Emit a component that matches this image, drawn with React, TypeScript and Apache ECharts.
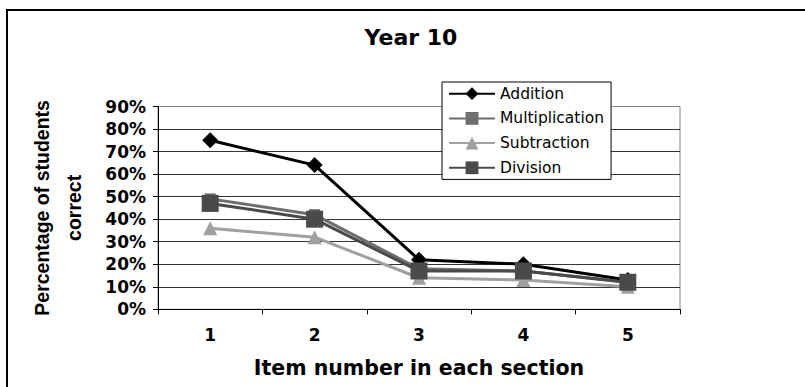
import React, { useEffect, useRef } from "react";
import * as echarts from "echarts";

// Item numbers along the x axis
const items = ["1", "2", "3", "4", "5"];

// Percentage of students correct per item, by section
const addition = [75, 64, 22, 20, 13];
const multiplication = [49, 42, 18, 17, 12];
const subtraction = [36, 32, 14, 13, 10];
const division = [47, 40, 17, 17, 12];

const seriesNames = ["Addition", "Multiplication", "Subtraction", "Division"];

const WIDE = "'DejaVu Sans', Verdana, sans-serif";
const ARIAL = "'Liberation Sans', Arial, Helvetica, sans-serif";

export default function App() {
  const ref = useRef<HTMLDivElement>(null);

  useEffect(() => {
    if (!ref.current) return;
    const chart = echarts.init(ref.current, null, { renderer: "svg" });

    // Excel-style gridlines: dark inside, lighter plot-area border on top
    const gridLineColors = ["#333", "#333", "#333", "#333", "#333", "#333", "#333", "#333", "#333", "#888"];

    chart.setOption({
      animation: false,
      backgroundColor: "#fff",
      textStyle: { fontFamily: WIDE },
      graphic: [
        {
          type: "rect",
          shape: { x: 7, y: 10, width: 900, height: 500 },
          style: { fill: "none", stroke: "#000", lineWidth: 2 },
          z: 0,
          silent: true,
        },
        {
          type: "text",
          x: 411,
          y: 37.5,
          style: {
            text: "Year 10",
            fontFamily: WIDE,
            fontSize: 22,
            fontWeight: "bold",
            fill: "#000",
            align: "center",
            verticalAlign: "middle",
          },
          z: 10,
        },
      ],
      legend: {
        orient: "vertical",
        left: 442,
        top: 82,
        itemWidth: 46,
        itemHeight: 16,
        itemGap: 8.7,
        padding: [3.7, 7, 3.6, 6],
        backgroundColor: "#fff",
        borderColor: "#000",
        borderWidth: 1,
        textStyle: { fontFamily: WIDE, fontSize: 15.5, color: "#000" },
        data: seriesNames,
        z: 10,
      },
      grid: {
        left: 158,
        right: 125,
        top: 106.5,
        bottom: 77.7,
        show: true,
        borderColor: "#888",
        borderWidth: 1,
        backgroundColor: "#fff",
      },
      xAxis: {
        type: "category",
        data: items,
        boundaryGap: true,
        name: "Item number in each section",
        nameLocation: "middle",
        nameGap: 48,
        nameTextStyle: { fontFamily: WIDE, fontSize: 20.5, fontWeight: "bold", color: "#000" },
        axisLine: { lineStyle: { color: "#000", width: 1 } },
        axisTick: { show: true, length: 5, inside: false, lineStyle: { color: "#000" } },
        axisLabel: { fontFamily: WIDE, fontSize: 17, fontWeight: "bold", color: "#000", margin: 17 },
      },
      yAxis: {
        type: "value",
        min: 0,
        max: 90,
        interval: 10,
        name: "Percentage of students\ncorrect",
        nameLocation: "middle",
        nameRotate: 90,
        nameGap: 68,
        nameTextStyle: { fontFamily: ARIAL, fontSize: 19.5, fontWeight: "bold", color: "#000", lineHeight: 32 },
        axisLine: { show: true, lineStyle: { color: "#000", width: 1 } },
        axisTick: { show: true, length: 5, inside: false, lineStyle: { color: "#000" } },
        axisLabel: {
          fontFamily: WIDE,
          fontSize: 17,
          fontWeight: "bold",
          color: "#000",
          margin: 12,
          formatter: (v: number) => `${v}%`,
        },
        splitLine: { show: true, lineStyle: { color: gridLineColors, width: 1 } },
      },
      series: [
        {
          name: "Subtraction",
          type: "line",
          data: subtraction,
          symbol: "triangle",
          symbolSize: 14,
          lineStyle: { color: "#a0a0a0", width: 3 },
          itemStyle: { color: "#a0a0a0" },
          z: 2,
        },
        {
          name: "Multiplication",
          type: "line",
          data: multiplication,
          symbol: "rect",
          symbolSize: 11,
          lineStyle: { color: "#6e6e6e", width: 3 },
          itemStyle: { color: "#6e6e6e" },
          z: 3,
        },
        {
          name: "Addition",
          type: "line",
          data: addition,
          symbol: "diamond",
          symbolSize: 16,
          lineStyle: { color: "#000", width: 3 },
          itemStyle: { color: "#000" },
          z: 4,
        },
        {
          name: "Division",
          type: "line",
          data: division,
          symbol: "rect",
          symbolSize: 17,
          lineStyle: { color: "#4a4a4a", width: 3 },
          itemStyle: { color: "#4a4a4a" },
          z: 5,
        },
      ],
    });

    return () => chart.dispose();
  }, []);

  return (
    <div
      ref={ref}
      style={{ position: "fixed", left: 0, top: 0, width: 805, height: 387, background: "#fff" }}
    />
  );
}
